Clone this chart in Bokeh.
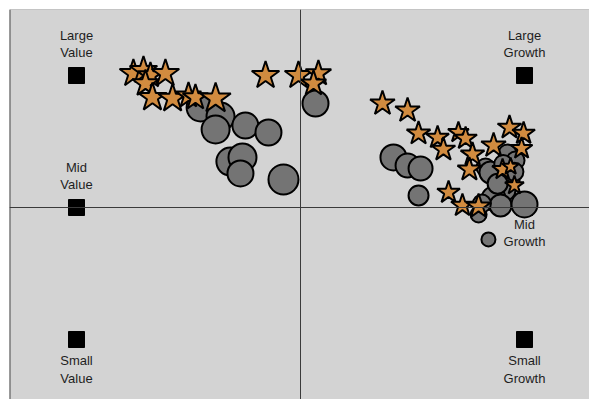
from bokeh.plotting import figure
from bokeh.models import Span, ColumnDataSource
from bokeh.embed import file_html
from bokeh.resources import INLINE
from bokeh.core.properties import value

# Style box anchors (value-growth score, size score)
box_x = [-100, -100, -100, 100, 100, 100]
box_y = [100, 0, -100, 100, 0, -100]
box_line1 = ["Large", "Mid", "Small", "Large", "Mid", "Small"]
box_line2 = ["Value", "Value", "Value", "Growth", "Growth", "Growth"]

# Holdings - series A (stars)
star_x = [-74.6, -70.1, -67.0, -60.3, -69.2, -66.1, -57.1, -50.0, -46.9, -37.9,
          -15.6, -0.9, 8.0, 5.8,
          36.6, 47.8, 52.7, 61.2, 63.8, 70.5, 73.7, 76.8, 75.4, 86.2,
          93.3, 99.6, 98.7, 90.2, 95.5, 66.1, 72.3, 79.5, 93.8]
star_y = [101.5, 103.8, 100.0, 101.5, 93.9, 83.3, 82.6, 84.8, 83.3, 82.6,
          100.0, 100.0, 101.5, 93.9,
          78.8, 73.5, 56.1, 53.0, 43.9, 56.8, 52.3, 40.2, 28.8, 47.0,
          60.6, 56.1, 44.7, 28.8, 16.7, 11.4, 1.5, 0.8, 31.0]
star_size = [29, 29, 27, 29, 28, 30, 30, 27, 27, 32,
             29, 29, 27, 27,
             26, 26, 25, 24, 25, 22, 24, 25, 25, 26,
             25, 24, 23, 22, 20, 24, 24, 26, 18]

# Holdings - series B (circles)
circ_x = [-44.6, -35.7, -37.9, -24.6, -14.3, -31.3, -25.9, -26.8, -7.6, 6.7,
          41.5, 47.8, 53.6, 52.7,
          82.6, 84.8, 92.4, 93.8, 91.5, 86.2, 89.3, 100.0, 79.5, 83.9, 96.0,
          88.0, 95.5, 81.0, 90.5]
circ_y = [75.8, 68.9, 59.1, 62.1, 56.8, 34.8, 37.9, 25.8, 21.2, 78.8,
          37.9, 31.8, 29.5, 9.1,
          30.3, 26.5, 40.9, 20.5, 12.9, 6.8, 1.5, 2.3, -5.3, -24.2, 35.6,
          18.0, 27.0, 3.0, 33.0]
circ_size = [30, 30, 30, 28, 28, 30, 30, 28, 32, 28,
             28, 26, 26, 22,
             20, 24, 20, 20, 22, 26, 24, 28, 18, 16, 20,
             22, 20, 20, 20]

# pixel geometry of the frame
PX_X = 2.24   # px per unit x
PX_Y = 1.32   # px per unit y
x_start = -291 / PX_X
x_end = 289 / PX_X
y_start = -192 / PX_Y
y_end = 198 / PX_Y

p = figure(width=589, height=399, output_backend="svg", toolbar_location=None,
           x_range=(x_start, x_end), y_range=(y_start, y_end),
           min_border_left=9, min_border_top=9, min_border_right=0, min_border_bottom=0,
           background_fill_color="#d3d3d3", border_fill_color="white",
           outline_line_color=None)
p.axis.visible = False
p.grid.visible = False

p.add_layout(Span(location=x_start, dimension="height", line_color="#4a4a4a", line_width=2))
p.add_layout(Span(location=y_end, dimension="width", line_color="#a0a0a0", line_width=1))
p.add_layout(Span(location=0, dimension="height", line_color="#3a3a3a", line_width=1))
p.add_layout(Span(location=0, dimension="width", line_color="#3a3a3a", line_width=1))

p.scatter(box_x, box_y, marker="square", size=16, fill_color="black", line_color="black")

# label offsets (px, screen) relative to anchor square
off1 = [-40.5, -40.5, 20.5, -40.5, 16.5, 20.5]
off2 = [-23.0, -23.0, 38.5, -23.0, 34.0, 38.5]
lab = ColumnDataSource(dict(x=box_x, y=box_y, t1=box_line1, t2=box_line2, o1=off1, o2=off2))
for t, o in (("t1", "o1"), ("t2", "o2")):
    p.text(x="x", y="y", text=t, y_offset=o, source=lab, text_align="center",
           text_baseline="alphabetic", text_font=value("Liberation Sans"),
           text_font_size="13px", text_color="#1e1e1e")

p.scatter(circ_x, circ_y, marker="circle", size=[s - 2 for s in circ_size],
          fill_color="#747474", line_color="black", line_width=2)
p.scatter(star_x, star_y, marker="star", size=star_size,
          fill_color="#d18b3f", line_color="black", line_width=2)

open("out.html", "w").write(file_html(p, INLINE))
